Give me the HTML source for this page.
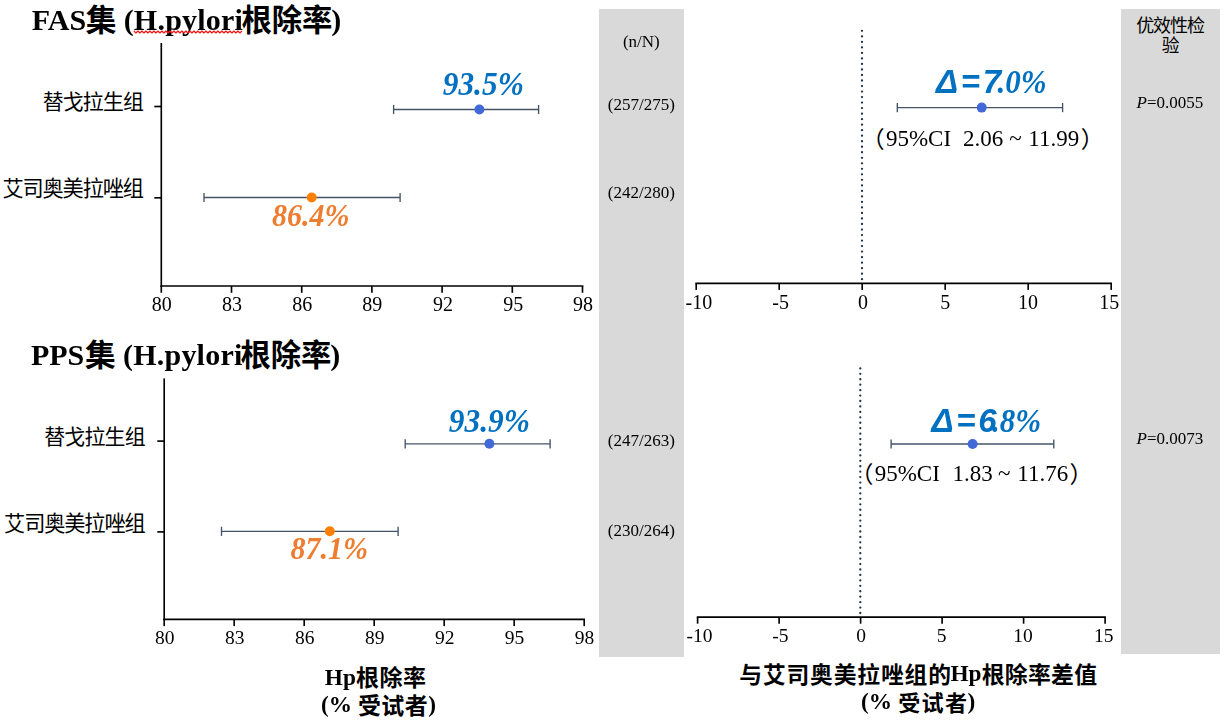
<!DOCTYPE html>
<html lang="zh">
<head>
<meta charset="utf-8">
<title>H.pylori eradication rate - FAS / PPS</title>
<style>
html,body{margin:0;padding:0;background:#fff;}
body{width:1228px;height:723px;position:relative;overflow:hidden;font-family:"Liberation Serif",serif;color:#000;}
.panel{position:absolute;background:#d9d9d9;}
svg.layer{position:absolute;left:0;top:0;}
.t{position:absolute;white-space:pre;line-height:1em;font-family:"Liberation Serif",serif;}
.tl{position:absolute;left:0;top:0;width:1228px;height:723px;will-change:transform;}
.t.sans{font-family:"Liberation Sans",sans-serif;}
.b{font-weight:bold;}
.bi{font-weight:bold;font-style:italic;}
svg text{font-family:"Liberation Sans","Noto Sans CJK SC",sans-serif;fill:#000;}
</style>
</head>
<body>
<div class="panel" style="left:599px;top:9px;width:85px;height:648px"></div>
<div class="panel" style="left:1121px;top:9px;width:99px;height:645px"></div>
<svg class="layer" width="1228" height="723" viewBox="0 0 1228 723">
<text x="85.81" y="31.19" font-size="30.75" font-weight="bold">集</text>
<text x="241.51" y="31.10" font-size="30.4" font-weight="bold" style="letter-spacing:-0.2px">根除率</text>
<text x="84.91" y="365.99" font-size="30.75" font-weight="bold">集</text>
<text x="240.61" y="365.90" font-size="30.4" font-weight="bold" style="letter-spacing:-0.2px">根除率</text>
<line x1="161.30" y1="43.00" x2="161.30" y2="287.00" stroke="#000" stroke-width="1.65" />
<line x1="160.48" y1="286.00" x2="583.33" y2="286.00" stroke="#000" stroke-width="1.65" />
<line x1="161.30" y1="286.00" x2="161.30" y2="292.80" stroke="#000" stroke-width="1.65" />
<line x1="231.50" y1="286.00" x2="231.50" y2="292.80" stroke="#000" stroke-width="1.65" />
<line x1="301.70" y1="286.00" x2="301.70" y2="292.80" stroke="#000" stroke-width="1.65" />
<line x1="371.90" y1="286.00" x2="371.90" y2="292.80" stroke="#000" stroke-width="1.65" />
<line x1="442.10" y1="286.00" x2="442.10" y2="292.80" stroke="#000" stroke-width="1.65" />
<line x1="512.30" y1="286.00" x2="512.30" y2="292.80" stroke="#000" stroke-width="1.65" />
<line x1="582.50" y1="286.00" x2="582.50" y2="292.80" stroke="#000" stroke-width="1.65" />
<line x1="154.30" y1="106.50" x2="161.30" y2="106.50" stroke="#000" stroke-width="1.65" />
<line x1="154.30" y1="197.80" x2="161.30" y2="197.80" stroke="#000" stroke-width="1.65" />
<line x1="393.60" y1="109.50" x2="538.60" y2="109.50" stroke="#435468" stroke-width="1.35" />
<line x1="393.60" y1="104.90" x2="393.60" y2="114.10" stroke="#435468" stroke-width="1.35" />
<line x1="538.60" y1="104.90" x2="538.60" y2="114.10" stroke="#435468" stroke-width="1.35" />
<circle cx="479.40" cy="109.50" r="5" fill="#4169d8"/>
<line x1="204.00" y1="197.50" x2="400.10" y2="197.50" stroke="#435468" stroke-width="1.35" />
<line x1="204.00" y1="192.90" x2="204.00" y2="202.10" stroke="#435468" stroke-width="1.35" />
<line x1="400.10" y1="192.90" x2="400.10" y2="202.10" stroke="#435468" stroke-width="1.35" />
<circle cx="311.70" cy="197.50" r="5" fill="#ff8000"/>
<text x="42.64" y="109.37" font-size="20.93" style="letter-spacing:-0.83px">替戈拉生组</text>
<text x="2.38" y="195.80" font-size="21.21" style="letter-spacing:-1.13px">艾司奥美拉唑组</text>
<line x1="164.20" y1="378.40" x2="164.20" y2="620.30" stroke="#000" stroke-width="1.65" />
<line x1="163.38" y1="619.30" x2="585.03" y2="619.30" stroke="#000" stroke-width="1.65" />
<line x1="164.20" y1="619.30" x2="164.20" y2="626.10" stroke="#000" stroke-width="1.65" />
<line x1="234.20" y1="619.30" x2="234.20" y2="626.10" stroke="#000" stroke-width="1.65" />
<line x1="304.20" y1="619.30" x2="304.20" y2="626.10" stroke="#000" stroke-width="1.65" />
<line x1="374.20" y1="619.30" x2="374.20" y2="626.10" stroke="#000" stroke-width="1.65" />
<line x1="444.20" y1="619.30" x2="444.20" y2="626.10" stroke="#000" stroke-width="1.65" />
<line x1="514.20" y1="619.30" x2="514.20" y2="626.10" stroke="#000" stroke-width="1.65" />
<line x1="584.20" y1="619.30" x2="584.20" y2="626.10" stroke="#000" stroke-width="1.65" />
<line x1="157.30" y1="441.10" x2="164.20" y2="441.10" stroke="#000" stroke-width="1.65" />
<line x1="157.30" y1="531.90" x2="164.20" y2="531.90" stroke="#000" stroke-width="1.65" />
<line x1="405.20" y1="443.80" x2="550.10" y2="443.80" stroke="#435468" stroke-width="1.35" />
<line x1="405.20" y1="439.20" x2="405.20" y2="448.40" stroke="#435468" stroke-width="1.35" />
<line x1="550.10" y1="439.20" x2="550.10" y2="448.40" stroke="#435468" stroke-width="1.35" />
<circle cx="489.40" cy="443.80" r="5" fill="#4169d8"/>
<line x1="221.50" y1="531.30" x2="398.10" y2="531.30" stroke="#435468" stroke-width="1.35" />
<line x1="221.50" y1="526.70" x2="221.50" y2="535.90" stroke="#435468" stroke-width="1.35" />
<line x1="398.10" y1="526.70" x2="398.10" y2="535.90" stroke="#435468" stroke-width="1.35" />
<circle cx="329.80" cy="531.30" r="5" fill="#ff8000"/>
<text x="44.24" y="444.37" font-size="20.93" style="letter-spacing:-0.8px">替戈拉生组</text>
<text x="4.08" y="530.80" font-size="21.21" style="letter-spacing:-1.14px">艾司奥美拉唑组</text>
<line x1="695.38" y1="283.30" x2="1112.03" y2="283.30" stroke="#000" stroke-width="1.65" />
<line x1="696.20" y1="283.30" x2="696.20" y2="289.90" stroke="#000" stroke-width="1.65" />
<line x1="779.20" y1="283.30" x2="779.20" y2="289.90" stroke="#000" stroke-width="1.65" />
<line x1="862.20" y1="283.30" x2="862.20" y2="289.90" stroke="#000" stroke-width="1.65" />
<line x1="945.20" y1="283.30" x2="945.20" y2="289.90" stroke="#000" stroke-width="1.65" />
<line x1="1028.20" y1="283.30" x2="1028.20" y2="289.90" stroke="#000" stroke-width="1.65" />
<line x1="1111.20" y1="283.30" x2="1111.20" y2="289.90" stroke="#000" stroke-width="1.65" />
<line x1="862.0" y1="30.85" x2="862.0" y2="279.3" stroke="#1f3448" stroke-width="2.3" stroke-linecap="round" stroke-dasharray="0.01 5.5089"/>
<line x1="696.77" y1="617.10" x2="1105.92" y2="617.10" stroke="#000" stroke-width="1.65" />
<line x1="697.60" y1="617.10" x2="697.60" y2="623.70" stroke="#000" stroke-width="1.65" />
<line x1="779.10" y1="617.10" x2="779.10" y2="623.70" stroke="#000" stroke-width="1.65" />
<line x1="860.60" y1="617.10" x2="860.60" y2="623.70" stroke="#000" stroke-width="1.65" />
<line x1="942.10" y1="617.10" x2="942.10" y2="623.70" stroke="#000" stroke-width="1.65" />
<line x1="1023.60" y1="617.10" x2="1023.60" y2="623.70" stroke="#000" stroke-width="1.65" />
<line x1="1105.10" y1="617.10" x2="1105.10" y2="623.70" stroke="#000" stroke-width="1.65" />
<line x1="860.3" y1="368.4" x2="860.3" y2="613.1" stroke="#1f3448" stroke-width="2.3" stroke-linecap="round" stroke-dasharray="0.01 5.4256"/>
<line x1="897.30" y1="107.60" x2="1062.60" y2="107.60" stroke="#435468" stroke-width="1.35" />
<line x1="897.30" y1="103.00" x2="897.30" y2="112.20" stroke="#435468" stroke-width="1.35" />
<line x1="1062.60" y1="103.00" x2="1062.60" y2="112.20" stroke="#435468" stroke-width="1.35" />
<circle cx="981.70" cy="107.60" r="5" fill="#4169d8"/>
<line x1="891.10" y1="444.00" x2="1053.80" y2="444.00" stroke="#435468" stroke-width="1.35" />
<line x1="891.10" y1="439.40" x2="891.10" y2="448.60" stroke="#435468" stroke-width="1.35" />
<line x1="1053.80" y1="439.40" x2="1053.80" y2="448.60" stroke="#435468" stroke-width="1.35" />
<circle cx="972.60" cy="444.00" r="5" fill="#4169d8"/>
<text x="861.55" y="147.68" font-size="23.11">（</text>
<text x="1080.74" y="147.68" font-size="23.11">）</text>
<text x="850.25" y="482.58" font-size="23.11">（</text>
<text x="1069.54" y="482.58" font-size="23.11">）</text>
<text x="1136.21" y="31.69" font-size="18" style="letter-spacing:-1.1px">优效性检</text>
<text x="1161.71" y="52.06" font-size="17.8">验</text>
<text x="356.10" y="685.57" font-size="23" font-weight="bold" style="letter-spacing:0.48px">根除率</text>
<text x="357.99" y="713.97" font-size="23" font-weight="bold" style="letter-spacing:0.37px">受试者</text>
<text x="739.28" y="683.18" font-size="22.78" font-weight="bold" style="letter-spacing:0.85px">与艾司奥美拉唑组的</text>
<text x="981.71" y="683.20" font-size="22.85" font-weight="bold" style="letter-spacing:0.27px">根除率差值</text>
<text x="898.14" y="711.01" font-size="22.12" font-weight="bold" style="letter-spacing:1.35px">受试者</text>
</svg>
<div class="tl">
<div id="t0" class="t b" style="left:31.71px;top:5.00px;font-size:30.0px;">FAS</div>
<div id="t1" class="t b" style="left:123.67px;top:5.00px;font-size:30.0px;letter-spacing:0.22px;">(H.pylori</div>
<div id="t2" class="t b" style="right:886.78px;top:5.00px;font-size:30.0px;">)</div>
<div id="t3" class="t b" style="left:30.97px;top:340.00px;font-size:30.0px;">PPS</div>
<div id="t4" class="t b" style="left:123.00px;top:340.00px;font-size:30.0px;letter-spacing:0.22px;">(H.pylori</div>
<div id="t5" class="t b" style="right:887.89px;top:340.00px;font-size:30.0px;">)</div>
<div id="t6" class="t" style="left:161.83px;top:294.00px;font-size:20px;transform:translateX(-50%);">80</div>
<div id="t7" class="t" style="left:232.07px;top:294.00px;font-size:20px;transform:translateX(-50%);">83</div>
<div id="t8" class="t" style="left:302.22px;top:294.00px;font-size:20px;transform:translateX(-50%);">86</div>
<div id="t9" class="t" style="left:372.31px;top:294.00px;font-size:20px;transform:translateX(-50%);">89</div>
<div id="t10" class="t" style="left:442.96px;top:294.00px;font-size:20px;transform:translateX(-50%);">92</div>
<div id="t11" class="t" style="left:513.15px;top:294.00px;font-size:20px;transform:translateX(-50%);">95</div>
<div id="t12" class="t" style="left:583.03px;top:294.00px;font-size:20px;transform:translateX(-50%);">98</div>
<div id="t13" class="t bi" style="left:483.28px;top:69.00px;font-size:31.4px;color:#0070c0;transform-origin:0 26px;transform:translateX(-50%) scaleY(1.06);">93.5%</div>
<div id="t14" class="t bi" style="left:310.73px;top:201.00px;font-size:30px;color:#ed7d31;transform-origin:0 25px;transform:translateX(-50%) scaleY(1.06);">86.4%</div>
<div id="t15" class="t" style="left:164.68px;top:628.00px;font-size:19.5px;transform:translateX(-50%);">80</div>
<div id="t16" class="t" style="left:234.73px;top:628.00px;font-size:19.5px;transform:translateX(-50%);">83</div>
<div id="t17" class="t" style="left:304.87px;top:628.00px;font-size:19.5px;transform:translateX(-50%);">86</div>
<div id="t18" class="t" style="left:374.73px;top:628.00px;font-size:19.5px;transform:translateX(-50%);">89</div>
<div id="t19" class="t" style="left:444.84px;top:628.00px;font-size:19.5px;transform:translateX(-50%);">92</div>
<div id="t20" class="t" style="left:514.62px;top:628.00px;font-size:19.5px;transform:translateX(-50%);">95</div>
<div id="t21" class="t" style="left:584.60px;top:628.00px;font-size:19.5px;transform:translateX(-50%);">98</div>
<div id="t22" class="t bi" style="left:489.30px;top:406.00px;font-size:31.4px;color:#0070c0;transform-origin:0 26px;transform:translateX(-50%) scaleY(1.06);">93.9%</div>
<div id="t23" class="t bi" style="left:329.33px;top:534.00px;font-size:30px;color:#ed7d31;transform-origin:0 25px;transform:translateX(-50%) scaleY(1.06);">87.1%</div>
<div id="t24" class="t" style="left:641.32px;top:33.00px;font-size:17.0px;transform:translateX(-50%);">(n/N)</div>
<div id="t25" class="t" style="left:641.30px;top:96.00px;font-size:17.0px;transform:translateX(-50%);">(257/275)</div>
<div id="t26" class="t" style="left:641.30px;top:184.00px;font-size:17.0px;transform:translateX(-50%);">(242/280)</div>
<div id="t27" class="t" style="left:641.30px;top:432.00px;font-size:17.0px;transform:translateX(-50%);">(247/263)</div>
<div id="t28" class="t" style="left:641.30px;top:522.00px;font-size:17.0px;transform:translateX(-50%);">(230/264)</div>
<div id="t29" class="t" style="left:698.88px;top:292.00px;font-size:20px;transform:translateX(-50%);">-10</div>
<div id="t30" class="t" style="left:780.69px;top:292.00px;font-size:20px;transform:translateX(-50%);">-5</div>
<div id="t31" class="t" style="left:862.97px;top:292.00px;font-size:20px;transform:translateX(-50%);">0</div>
<div id="t32" class="t" style="left:945.36px;top:292.00px;font-size:20px;transform:translateX(-50%);">5</div>
<div id="t33" class="t" style="left:1028.08px;top:292.00px;font-size:20px;transform:translateX(-50%);">10</div>
<div id="t34" class="t" style="left:1109.31px;top:292.00px;font-size:20px;transform:translateX(-50%);">15</div>
<div id="t35" class="t" style="left:699.50px;top:626.00px;font-size:19.5px;transform:translateX(-50%);">-10</div>
<div id="t36" class="t" style="left:780.38px;top:626.00px;font-size:19.5px;transform:translateX(-50%);">-5</div>
<div id="t37" class="t" style="left:861.05px;top:626.00px;font-size:19.5px;transform:translateX(-50%);">0</div>
<div id="t38" class="t" style="left:941.58px;top:626.00px;font-size:19.5px;transform:translateX(-50%);">5</div>
<div id="t39" class="t" style="left:1022.93px;top:626.00px;font-size:19.5px;transform:translateX(-50%);">10</div>
<div id="t40" class="t" style="left:1103.71px;top:626.00px;font-size:19.5px;transform:translateX(-50%);">15</div>
<div id="t41" class="t bi sans" style="left:935.88px;top:65.00px;font-size:33px;color:#0070c0;letter-spacing:2.7px;">&Delta;=7</div>
<div id="t42" class="t bi" style="left:997.47px;top:67.00px;font-size:31px;color:#0070c0;transform-origin:0 26px;transform:scaleY(1.06);">.0%</div>
<div id="t43" class="t bi sans" style="left:931.45px;top:404.00px;font-size:33px;color:#0070c0;letter-spacing:2.7px;">&Delta;=6</div>
<div id="t44" class="t bi" style="left:992.00px;top:406.00px;font-size:31px;color:#0070c0;transform-origin:0 26px;transform:scaleY(1.06);">.8%</div>
<div id="t45" class="t" style="left:885.91px;top:127.00px;font-size:23px;">95%CI</div>
<div id="t46" class="t" style="left:963.00px;top:127.00px;font-size:23px;">2.06</div>
<div id="t47" class="t" style="left:1009.29px;top:127.00px;font-size:23px;">~</div>
<div id="t48" class="t" style="right:148.87px;top:127.00px;font-size:23px;">11.99</div>
<div id="t49" class="t" style="left:874.71px;top:462.00px;font-size:23px;">95%CI</div>
<div id="t50" class="t" style="left:952.39px;top:462.00px;font-size:23px;">1.83</div>
<div id="t51" class="t" style="left:997.95px;top:462.00px;font-size:23px;">~</div>
<div id="t52" class="t" style="right:159.77px;top:462.00px;font-size:23px;">11.76</div>
<div id="t53" class="t" style="left:1169.94px;top:94.00px;font-size:17.0px;transform:translateX(-50%);"><i>P</i>=0.0055</div>
<div id="t54" class="t" style="left:1169.92px;top:430.00px;font-size:17.0px;transform:translateX(-50%);"><i>P</i>=0.0073</div>
<div id="t55" class="t b" style="left:324.85px;top:666.00px;font-size:23.3px;">Hp</div>
<div id="t56" class="t b" style="left:320.89px;top:693.00px;font-size:23.3px;">(%</div>
<div id="t57" class="t b" style="right:791.95px;top:693.00px;font-size:23.3px;">)</div>
<div id="t58" class="t b" style="left:950.43px;top:662.00px;font-size:23.3px;">Hp</div>
<div id="t59" class="t b" style="left:860.89px;top:690.00px;font-size:23.3px;">(%</div>
<div id="t60" class="t b" style="right:252.66px;top:690.00px;font-size:23.3px;">)</div>
</div>
<svg class="layer" width="1228" height="723" viewBox="0 0 1228 723"><path d="M133.9 31.0 L135.9 33.0 L137.9 31.0 L139.9 33.0 L141.9 31.0 L143.9 33.0 L145.9 31.0 L147.9 33.0 L149.9 31.0 L151.9 33.0 L153.9 31.0 L155.9 33.0 L157.9 31.0 L159.9 33.0 L161.9 31.0 L163.9 33.0 L165.9 31.0 L167.9 33.0 L169.9 31.0 L171.9 33.0 L173.9 31.0 L175.9 33.0 L177.9 31.0 L179.9 33.0 L181.9 31.0 L183.9 33.0 L185.9 31.0 L187.9 33.0 L189.9 31.0 L191.9 33.0 L193.9 31.0 L195.9 33.0 L197.9 31.0 L199.9 33.0 L201.9 31.0 L203.9 33.0 L205.9 31.0 L207.9 33.0 L209.9 31.0 L211.9 33.0 L213.9 31.0 L215.9 33.0 L217.9 31.0 L219.9 33.0 L221.9 31.0 L223.9 33.0 L225.9 31.0 L227.9 33.0 L229.9 31.0 L231.9 33.0 L233.9 31.0 L235.9 33.0 L237.9 31.0 L239.9 33.0 L241.9 31.0" fill="none" stroke="#ff1414" stroke-width="1.15" stroke-linejoin="round"/></svg>
</body>
</html>
